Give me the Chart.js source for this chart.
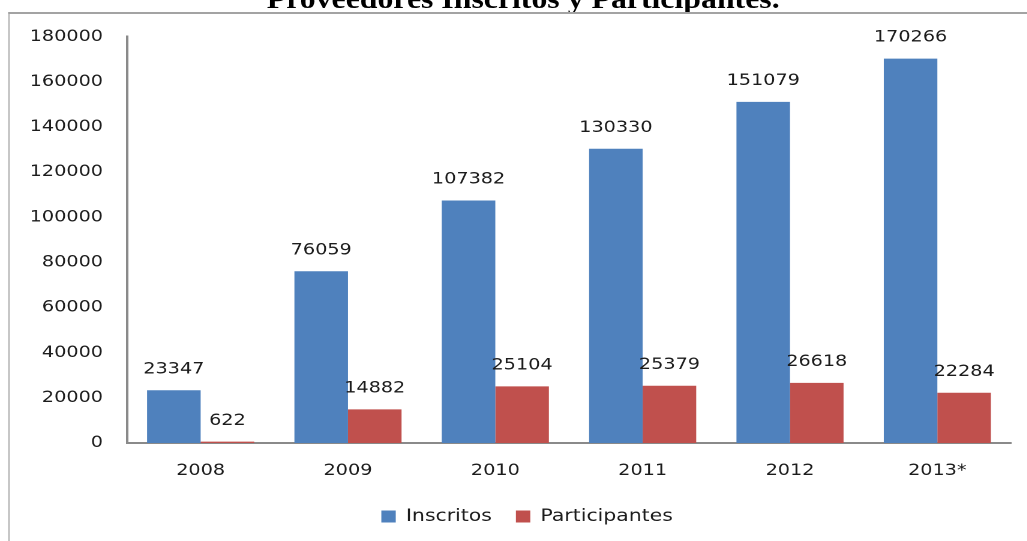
<!DOCTYPE html>
<html>
<head>
<meta charset="utf-8">
<script src="https://cdn.jsdelivr.net/npm/chart.js@4.4.0/dist/chart.umd.min.js"></script>
<style>
  html, body { margin: 0; padding: 0; background: #fff; overflow: hidden; }
  /* la imagen original viene estirada en horizontal (~1.2x) */
  #page {
    position: absolute; left: 0; top: 0;
    width: 856px; height: 541px;
    transform: scaleX(1.2); transform-origin: 0 0;
  }
  #titulo {
    position: absolute; left: 0; top: -14px; width: 872px;
    text-align: center;
    font: bold 26.5px "Liberation Serif", "Times New Roman", serif;
    line-height: 26px; color: #000; white-space: nowrap;
  }
  #marco {
    position: absolute; left: 7px; top: 12px; width: 900px; height: 600px;
    border-top: 2px solid #a3a3a3; border-left: 1.7px solid #a3a3a3;
  }
  #wrap { position: absolute; left: 8px; top: 7px; width: 848px; height: 534px; }
</style>
</head>
<body>
<div id="page">
  <div id="titulo">Proveedores Inscritos y Participantes.</div>
  <div id="marco"></div>
  <div id="wrap"><canvas id="chart"></canvas></div>
</div>
<script>
  // datos
  const years = ['2008', '2009', '2010', '2011', '2012', '2013*'];
  const inscritos = [23347, 76059, 107382, 130330, 151079, 170266];
  const participantes = [622, 14882, 25104, 25379, 26618, 22284];
  const yMin = 0, yMax = 180000, yStep = 20000;

  const INK = '#1c1c1c';
  const AXIS = '#8a8a8a';
  const FONT = '"DejaVu Sans", Verdana, sans-serif';

  // etiquetas de valor encima de cada barra
  const valueLabels = {
    id: 'valueLabels',
    afterDatasetsDraw(chart) {
      const ctx = chart.ctx;
      ctx.save();
      ctx.font = '16px ' + FONT;
      ctx.fillStyle = INK;
      ctx.textAlign = 'center';
      ctx.textBaseline = 'middle';
      chart.data.datasets.forEach((ds, i) => {
        chart.getDatasetMeta(i).data.forEach((bar, j) => {
          ctx.fillText(String(ds.data[j]), bar.x, bar.y - 21);
        });
      });
      ctx.restore();
    }
  };

  // la leyenda del original está algo desplazada a la derecha
  const legendShift = {
    id: 'legendShift',
    afterLayout(chart) {
      const lg = chart.legend;
      if (!lg) return;
      lg.left += 14;
      lg.right += 14;
    }
  };

  new Chart(document.getElementById('chart'), {
    type: 'bar',
    data: {
      labels: years,
      datasets: [
        { label: 'Inscritos', data: inscritos, backgroundColor: '#4f81bd' },
        { label: 'Participantes', data: participantes, backgroundColor: '#c0504d' },
      ],
    },
    options: {
      responsive: true,
      maintainAspectRatio: false,
      animation: false,
      devicePixelRatio: 2,
      categoryPercentage: 0.727,
      barPercentage: 1.0,
      layout: { padding: { top: 0, right: 13.5, bottom: 6, left: 0 } },
      plugins: {
        legend: {
          position: 'bottom',
          labels: {
            color: INK,
            font: { family: FONT, size: 17 },
            boxWidth: 12, boxHeight: 12, padding: 20,
          },
        },
        tooltip: { enabled: false },
      },
      scales: {
        x: {
          grid: { display: false, drawTicks: false },
          border: { display: true, color: AXIS, width: 2 },
          ticks: { color: INK, font: { family: FONT, size: 16 }, padding: 18 },
          afterFit: (s) => { s.height = 45; },
        },
        y: {
          min: yMin, max: yMax,
          grid: { display: false, drawTicks: false },
          border: { display: true, color: AXIS, width: 2 },
          ticks: {
            stepSize: yStep, color: INK, font: { family: FONT, size: 16 }, padding: 20,
            callback: (v) => String(v),
          },
          afterFit: (s) => { s.width = 97.8; },
        },
      },
    },
    plugins: [valueLabels, legendShift],
  });
</script>
</body>
</html>
